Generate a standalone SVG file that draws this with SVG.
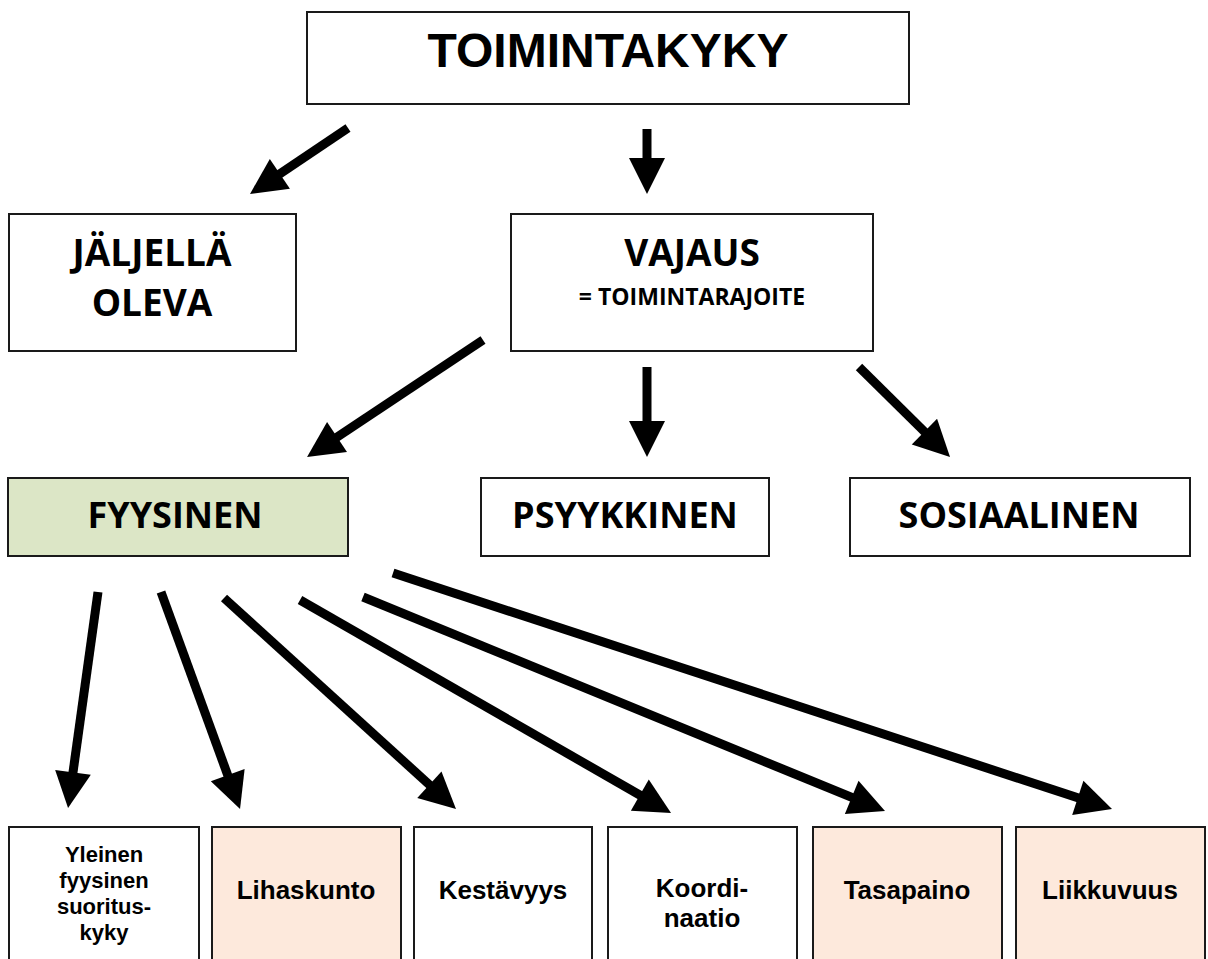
<svg xmlns="http://www.w3.org/2000/svg" width="1208" height="959" viewBox="0 0 1208 959">
<style>
.box{fill:#fff;stroke:#1a1a1a;stroke-width:2}
.green{fill:#dce6c6}
.peach{fill:#fde9dc}
.h1{font-family:"Liberation Sans",Arial,sans-serif;font-weight:bold;font-size:48px;text-anchor:middle;fill:#000}
.h2{font-family:"Open Sans",sans-serif;font-weight:bold;font-size:37px;text-anchor:middle;fill:#000}
.h3{font-family:"Open Sans",sans-serif;font-weight:bold;font-size:36px;text-anchor:middle;fill:#000}
.sub{font-family:"Open Sans",sans-serif;font-weight:bold;font-size:23px;text-anchor:middle;fill:#000}
.t{font-family:"Liberation Sans",Arial,sans-serif;font-weight:bold;font-size:26px;text-anchor:middle;fill:#000}
.ts{font-family:"Liberation Sans",Arial,sans-serif;font-weight:bold;font-size:22px;text-anchor:middle;fill:#000}
.c line{stroke:#000;stroke-width:9;stroke-linecap:butt;marker-end:url(#ah)}
</style>
<defs>
<marker id="ah" markerUnits="userSpaceOnUse" markerWidth="40" markerHeight="40" refX="16" refY="18" orient="auto" overflow="visible">
<path d="M0,0 L36,18 L0,36 z" fill="#000"/>
</marker>
</defs>
<rect width="1208" height="959" fill="#fff"/>
<g id="n-toimintakyky"><rect class="box" x="307" y="12" width="602" height="92"/><text class="h1" x="608" y="67">TOIMINTAKYKY</text></g>
<g id="n-jaljella"><rect class="box" x="9" y="214" width="287" height="137"/><text class="h2" x="152" y="266">JÄLJELLÄ</text><text class="h2" x="152" y="316">OLEVA</text></g>
<g id="n-vajaus"><rect class="box" x="511" y="214" width="362" height="137"/><text class="h2" x="692" y="266">VAJAUS</text><text class="sub" x="692" y="305">= TOIMINTARAJOITE</text></g>
<g id="n-fyysinen"><rect class="box green" x="8" y="478" width="340" height="78"/><text class="h3" x="175" y="528">FYYSINEN</text></g>
<g id="n-psyykkinen"><rect class="box" x="481" y="478" width="288" height="78"/><text class="h3" x="625" y="528">PSYYKKINEN</text></g>
<g id="n-sosiaalinen"><rect class="box" x="850" y="478" width="340" height="78"/><text class="h3" x="1019" y="528">SOSIAALINEN</text></g>
<g id="n-yleinen"><rect class="box" x="9" y="827" width="190" height="140"/><text class="ts" x="104" y="862">Yleinen</text><text class="ts" x="104" y="888">fyysinen</text><text class="ts" x="104" y="914">suoritus-</text><text class="ts" x="104" y="940">kyky</text></g>
<g id="n-lihaskunto"><rect class="box peach" x="212" y="827" width="189" height="140"/><text class="t" x="306" y="899">Lihaskunto</text></g>
<g id="n-kestavyys"><rect class="box" x="414" y="827" width="178" height="140"/><text class="t" x="503" y="899">Kestävyys</text></g>
<g id="n-koordinaatio"><rect class="box" x="608" y="827" width="189" height="140"/><text class="t" x="702" y="897">Koordi-</text><text class="t" x="702" y="927">naatio</text></g>
<g id="n-tasapaino"><rect class="box peach" x="813" y="827" width="189" height="140"/><text class="t" x="907" y="899">Tasapaino</text></g>
<g id="n-liikkuvuus"><rect class="box peach" x="1016" y="827" width="189" height="140"/><text class="t" x="1110" y="899">Liikkuvuus</text></g>
<g id="connectors" class="c">
<line x1="348" y1="128" x2="266.6" y2="182.8"/>
<line x1="647" y1="129" x2="647" y2="174"/>
<line x1="483" y1="340" x2="323.7" y2="445.9"/>
<line x1="647" y1="367" x2="647" y2="437"/>
<line x1="859" y1="367" x2="935.8" y2="442.9"/>
<line x1="98" y1="592" x2="70.8" y2="788.2"/>
<line x1="161" y1="592" x2="233.2" y2="790.2"/>
<line x1="224" y1="598" x2="441.2" y2="795.5"/>
<line x1="300" y1="600" x2="653.7" y2="803"/>
<line x1="363" y1="597" x2="866.5" y2="803.4"/>
<line x1="393" y1="573" x2="1093" y2="802.8"/>
</g>
</svg>
